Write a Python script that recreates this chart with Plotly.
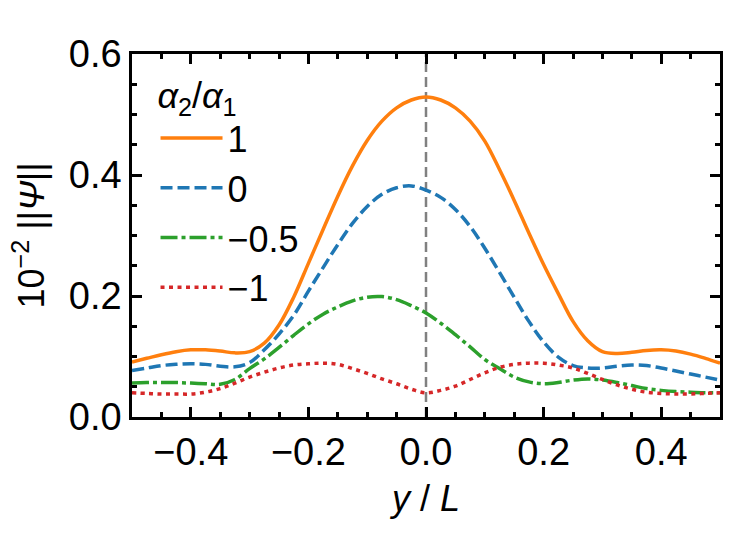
import plotly.graph_objects as go

y_over_L = [round(-0.5 + 0.025 * i, 3) for i in range(41)]

psi_ratio_1 = [0.091, 0.097, 0.103, 0.108, 0.111, 0.111, 0.109, 0.106, 0.108, 0.122,
               0.152, 0.198, 0.254, 0.310, 0.365, 0.415, 0.457, 0.489, 0.511, 0.524,
               0.529, 0.524, 0.511, 0.489, 0.456, 0.409, 0.358, 0.304, 0.252, 0.204,
               0.158, 0.126, 0.108, 0.105, 0.107, 0.110, 0.111, 0.109, 0.104, 0.097, 0.089]

psi_ratio_0 = [0.077, 0.081, 0.085, 0.087, 0.088, 0.087, 0.084, 0.083, 0.090, 0.111,
               0.137, 0.168, 0.208, 0.247, 0.285, 0.320, 0.348, 0.368, 0.379, 0.382,
               0.375, 0.363, 0.343, 0.315, 0.279, 0.239, 0.198, 0.158, 0.124, 0.099,
               0.085, 0.081, 0.081, 0.084, 0.086, 0.085, 0.081, 0.076, 0.071, 0.066, 0.061]

psi_ratio_m05 = [0.056, 0.057, 0.057, 0.057, 0.056, 0.055, 0.054, 0.062, 0.080, 0.096,
                 0.115, 0.135, 0.154, 0.170, 0.182, 0.192, 0.198, 0.199, 0.194, 0.184,
                 0.172, 0.155, 0.136, 0.116, 0.095, 0.080, 0.066, 0.058, 0.055, 0.057,
                 0.061, 0.063, 0.061, 0.057, 0.052, 0.047, 0.044, 0.042, 0.041, 0.040, 0.040]

psi_ratio_m1 = [0.040, 0.039, 0.038, 0.038, 0.038, 0.041, 0.047, 0.056, 0.066, 0.074,
                0.081, 0.086, 0.088, 0.089, 0.087, 0.080, 0.072, 0.063, 0.055, 0.046,
                0.040, 0.044, 0.051, 0.062, 0.073, 0.082, 0.087, 0.089, 0.089, 0.086,
                0.081, 0.072, 0.062, 0.053, 0.046, 0.041, 0.039, 0.038, 0.038, 0.039, 0.040]

labels = ["1", "0", "\u22120.5", "\u22121"]

center_x = [0.0, 0.0]
center_y = [0.0, 0.6]

series = [psi_ratio_1, psi_ratio_0, psi_ratio_m05, psi_ratio_m1]
colors = ["#ff7f0e", "#1f77b4", "#2ca02c", "#d62728"]
dashes = ["solid", "12px,5px", "17px,4px,4px,4px", "4px,4.5px"]

FONT = "Liberation Sans, Arial, Helvetica, sans-serif"

fig = go.Figure()
fig.add_trace(go.Scatter(x=center_x, y=center_y, mode="lines", showlegend=False, hoverinfo="skip",
                         line=dict(color="#808080", width=2.5, dash="10px,5px")))
for vals, lab, col, dash in zip(series, labels, colors, dashes):
    fig.add_trace(go.Scatter(x=y_over_L, y=vals, mode="lines", name=lab,
                             line=dict(color=col, width=3.5, dash=dash, shape="spline", smoothing=1.0)))

axis_common = dict(showline=True, linewidth=2.5, linecolor="black", mirror="allticks",
                   ticks="inside", ticklen=10, tickwidth=2.5, tickcolor="black",
                   showgrid=False, zeroline=False, tickmode="linear", dtick=0.2, tick0=0,
                   tickformat=".1f", layer="above traces", automargin=False,
                   tickfont=dict(family=FONT, size=38, color="black"),
                   minor=dict(dtick=0.05, tick0=0, ticks="inside", ticklen=5, tickwidth=2.5,
                              tickcolor="black", showgrid=False))

fig.update_xaxes(range=[-0.5, 0.5],
                 title=dict(text="<i>y</i> / <i>L</i>", font=dict(family=FONT, size=36, color="black"), standoff=14),
                 **axis_common)
fig.update_yaxes(range=[0.0, 0.6],
                 title=dict(text="10<sup>\u22122</sup> ||<i>\u03a8</i>||", font=dict(family=FONT, size=36, color="black"), standoff=14),
                 **axis_common)

fig.update_layout(
    width=750, height=534,
    margin=dict(l=132, r=30, t=54, b=117, autoexpand=False),
    paper_bgcolor="white", plot_bgcolor="white",
    showlegend=True,
    legend=dict(x=0.04, y=0.98, xanchor="left", yanchor="top",
                bgcolor="rgba(0,0,0,0)", borderwidth=0,
                font=dict(family=FONT, size=36, color="black"),
                title=dict(text="<i>\u03b1</i><sub>2</sub>/<i>\u03b1</i><sub>1</sub>",
                           font=dict(family=FONT, size=36, color="black")),
                itemwidth=62, tracegroupgap=0),
)

fig.write_html("out.html")
